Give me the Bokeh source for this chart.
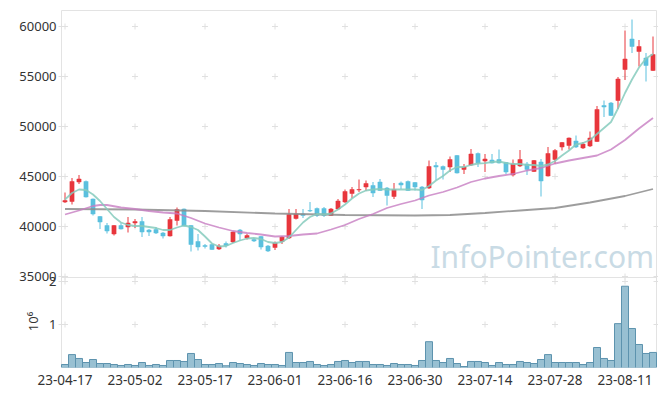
import math
from bokeh.plotting import figure
from bokeh.models import ColumnDataSource, FixedTicker, Label, Range1d
from bokeh.core.properties import value
from bokeh.embed import file_html
from bokeh.resources import INLINE

tick_idx = [0, 10, 20, 30, 40, 50, 60, 70, 80]
tick_labels = ["23-04-17", "23-05-02", "23-05-17", "23-06-01", "23-06-16",
               "23-06-30", "23-07-14", "23-07-28", "23-08-11"]
price_ticks = [35000, 40000, 45000, 50000, 55000, 60000]
price_tick_labels = ["35000", "40000", "45000", "50000", "55000", "60000"]
vol_ticks = [1000000, 2000000]
vol_tick_labels = ["1", "2"]

opens = [42450, 42500, 44450, 44500, 42750, 41000, 40100, 39250, 40100, 39950,
         40350, 40500, 39650, 39700, 39350, 39050, 40600, 41750, 40100, 38500,
         38100, 38200, 37750, 38300, 38450, 39650, 38850, 38700, 39000, 38050,
         37900, 38500, 38850, 40800, 41250, 41600, 41800, 41800, 41100, 41750,
         42450, 43300, 43650, 43950, 44100, 44450, 43850, 43000, 44350, 44500,
         44400, 43950, 43850, 46100, 46000, 45950, 47100, 45700, 46150, 47300,
         46550, 46650, 46700, 46400, 45150, 46050, 46250, 45500, 46450, 45050,
         46700, 47950, 48100, 48550, 47850, 48050, 48500, 52100, 52350, 52600,
         55700, 58750, 57500, 56850, 55600]
highs = [43400, 44850, 45150, 44600, 42800, 41050, 40350, 40150, 40350, 40950,
         40750, 40950, 39750, 39950, 39450, 40950, 41900, 41800, 40150, 39250,
         38250, 38250, 38250, 38500, 39500, 39750, 39250, 38850, 39050, 38150,
         38500, 39050, 41750, 41750, 41750, 42450, 41900, 41950, 41850, 42750,
         43700, 43950, 44700, 44600, 44450, 44750, 43950, 44350, 44500, 44600,
         44450, 44050, 46600, 46450, 46100, 47000, 47150, 46250, 47750, 47400,
         47250, 47250, 47700, 46450, 46700, 47650, 46450, 46650, 46750, 47950,
         47750, 48450, 48900, 49100, 48450, 49500, 52050, 52600, 52450, 54950,
         59600, 60700, 58650, 57350, 59000]
lows = [42350, 42200, 44250, 42900, 41100, 39750, 39300, 39100, 39700, 39400,
        39850, 38950, 39050, 39250, 38800, 39000, 40100, 40000, 37500, 37600,
        37800, 37650, 37650, 37900, 38350, 38600, 38700, 38450, 37700, 37450,
        37650, 38250, 38750, 40700, 40850, 41450, 40950, 40950, 41050, 41700,
        42350, 42850, 43450, 43550, 42950, 43550, 42100, 42750, 43750, 43550,
        43600, 41750, 43750, 44650, 44700, 45450, 45300, 45250, 46050, 45950,
        45450, 46300, 46300, 45250, 45000, 45950, 45150, 45450, 43000, 45000,
        46250, 47600, 47700, 47850, 47750, 47950, 48450, 50950, 51050, 51750,
        54650, 57350, 56000, 54500, 55550]
closes = [42600, 44500, 44750, 42950, 41250, 40450, 39550, 40100, 39750, 40350,
          40500, 39450, 39450, 39350, 39050, 40700, 41700, 40050, 38200, 37950,
          38000, 37700, 38050, 38100, 39450, 39250, 39100, 38550, 37950, 37550,
          38350, 38950, 41200, 41250, 41100, 41550, 41100, 41100, 41750, 42550,
          43500, 43700, 43700, 44300, 43350, 43600, 43100, 43700, 44150, 43600,
          43950, 42650, 46000, 45950, 45700, 46700, 45350, 45950, 47250, 46350,
          46750, 46350, 46350, 45450, 46250, 46700, 45700, 46600, 44550, 47300,
          47600, 48400, 48850, 47950, 48250, 48850, 51700, 51950, 51100, 54750,
          56750, 58000, 58000, 56100, 57200]
volumes = [70000, 300000, 210000, 116000, 186000, 93000, 93000, 70000, 47000, 70000,
           47000, 116000, 47000, 70000, 47000, 163000, 163000, 140000, 326000, 186000,
           70000, 70000, 93000, 40000, 116000, 93000, 70000, 47000, 93000, 70000,
           70000, 47000, 350000, 116000, 116000, 140000, 70000, 47000, 70000, 140000,
           163000, 116000, 140000, 140000, 70000, 70000, 47000, 93000, 70000, 70000,
           47000, 163000, 600000, 163000, 116000, 210000, 93000, 23000, 140000, 140000,
           116000, 47000, 116000, 70000, 70000, 140000, 116000, 93000, 186000, 300000,
           116000, 116000, 116000, 116000, 70000, 116000, 465000, 210000, 163000, 1020000,
           1890000, 907000, 535000, 326000, 350000]
ma5 = [42700, 43350, 43700, 43650, 43200, 42550, 41750, 40950, 40400, 40150,
       40050, 40050, 39950, 39850, 39650, 39650, 39900, 40100, 39950, 39650,
       39000, 38300, 38000, 38050, 38350, 38600, 38800, 38850, 38750, 38450,
       38350, 38450, 38900, 39650, 40400, 40950, 41250, 41200, 41300, 41700,
       42200, 42800, 43300, 43600, 43700, 43750, 43700, 43700, 43700, 43700,
       43700, 43650, 44050, 44600, 45050, 45600, 45950, 45950, 46150, 46300,
       46330, 46450, 46500, 46350, 46250, 46250, 46150, 46150, 46050, 46200,
       46550, 47100, 47600, 48200, 48350, 48650, 49250, 49850, 50450, 51800,
       53350, 54700, 55900, 56800, 57250]
ma20_x = [0, 2, 4, 5, 6, 8, 10, 12, 14, 16, 18, 20, 22, 24, 26, 28, 30, 32, 34, 36,
          38, 40, 42, 44, 46, 48, 50, 52, 54, 56, 58, 60, 62, 64, 66, 68, 70, 72, 74,
          76, 78, 80, 82, 84]
ma20 = [41200, 41600, 42050, 42150, 42150, 41900, 41750, 41550, 41400, 41300,
        40850, 40300, 39900, 39550, 39350, 39200, 39000, 39050, 39200, 39300,
        39700, 40150, 40750, 41250, 41850, 42250, 42600, 43100, 43450, 43900,
        44450, 44800, 45050, 45250, 45600, 45850, 46300, 46600, 46850, 47100,
        47700, 48650, 49800, 50850]
malong_x = [0, 10, 20, 30, 40, 50, 55, 60, 65, 70, 75, 80, 84]
malong = [41750, 41700, 41550, 41300, 41150, 41100, 41150, 41350, 41600, 41850,
          42400, 43050, 43750]

FONT = "Noto Sans"
RED = "#e8363c"
BLUE = "#5bc0de"
GRIDC = "#e0e0e0"
BORDER = "#e3e3e3"
TXT = "#333333"

# geometry: the drawing frame covers the whole canvas above the date axis;
# the visible chart box (price panel over volume panel) is drawn inside it.
BOX_L, BOX_R = -0.5, 84.5        # visible box, in bar-index units
BOX_TOP = 61600                  # price at the top edge of the box
P_SPLIT = 34900                  # price at the panel boundary
P_LO, P_HI = 25900, 62600        # price range of the frame
V_HI = 8534884                   # volume range of the frame (0 at frame bottom)
x_lo, x_hi = -9.2143, 84.7857

def vol_as_price(v):
    return P_LO + v * (P_HI - P_LO) / V_HI

idx = list(range(len(opens)))
colors = [RED if c > o else BLUE for o, c in zip(opens, closes)]
src = ColumnDataSource(dict(
    x=idx, o=opens, h=highs, l=lows, c=closes,
    top=[max(o, c) for o, c in zip(opens, closes)],
    bot=[min(o, c) for o, c in zip(opens, closes)],
    color=colors, vol=volumes))

p = figure(width=658, height=388, x_range=Range1d(x_lo, x_hi), y_range=Range1d(P_LO, P_HI),
           output_backend="svg", toolbar_location=None,
           min_border_left=0, min_border_right=0, min_border_top=0, min_border_bottom=21)
p.extra_y_ranges = {"vol": Range1d(0, V_HI)}
p.outline_line_color = None
p.xgrid.visible = False
p.ygrid.visible = False
p.yaxis.visible = False

xax = p.xaxis[0]
xax.ticker = FixedTicker(ticks=tick_idx)
xax.major_label_overrides = {i: s for i, s in zip(tick_idx, tick_labels)}
xax.axis_line_color = None
xax.major_tick_line_color = None
xax.minor_tick_line_color = None
xax.major_label_text_font = FONT
xax.major_label_text_font_size = "13.5px"
xax.major_label_text_color = TXT
xax.major_label_standoff = 1

vol_pos = [vol_as_price(v) for v in vol_ticks]

# chart box borders and panel separator
p.segment(x0=[BOX_L, BOX_R, BOX_L, BOX_L], y0=[P_LO, P_LO, BOX_TOP, P_SPLIT],
          x1=[BOX_L, BOX_R, BOX_R, BOX_R], y1=[BOX_TOP, BOX_TOP, BOX_TOP, P_SPLIT],
          line_color=BORDER, line_width=1)

# grid crosses
cx = [BOX_L] + tick_idx + [BOX_R]
rows = price_ticks + vol_pos
p.scatter(x=[x for x in cx for _ in rows], y=[y for _ in cx for y in rows],
          marker="cross", size=6, line_color=GRIDC, line_width=1)

# y tick labels (price panel and volume panel)
p.text(x=[BOX_L] * (len(rows)), y=rows, text=price_tick_labels + vol_tick_labels,
       x_offset=-5, text_align="right", text_baseline="middle",
       text_font=value(FONT), text_font_size="13px", text_color=TXT)

# volume unit label
p.text(x=[BOX_L], y=[vol_as_price(1070000)], text=["10⁶"], x_offset=-28.5,
       angle=math.pi / 2, text_align="center", text_baseline="middle",
       text_font=value(FONT), text_font_size="13px", text_color=TXT)

# watermark
p.add_layout(Label(x=52.2, y=35950, y_offset=11, text="InfoPointer.com", text_font=FONT,
                   text_font_size="30px", text_color="#c9dbe5", text_baseline="alphabetic"))

# candles
p.segment(x0="x", y0="l", x1="x", y1="h", color="color", line_width=1, source=src)
p.vbar(x="x", width=0.6, top="top", bottom="bot", fill_color="color",
       line_color="color", line_width=0.5, source=src)

# moving averages
p.line(malong_x, malong, line_color="#8c8c8c", line_width=1.8, line_alpha=0.85)
p.line(ma20_x, ma20, line_color="#c77dc2", line_width=1.8, line_alpha=0.8)
p.line(idx, ma5, line_color="#86cbbd", line_width=1.8, line_alpha=0.85)

# volume bars
p.vbar(x="x", width=1.0, top="vol", bottom=0, fill_color="#98c0d2",
       line_color="#5d93ae", line_width=1, source=src, y_range_name="vol")

open("out.html", "w").write(file_html(p, INLINE))
